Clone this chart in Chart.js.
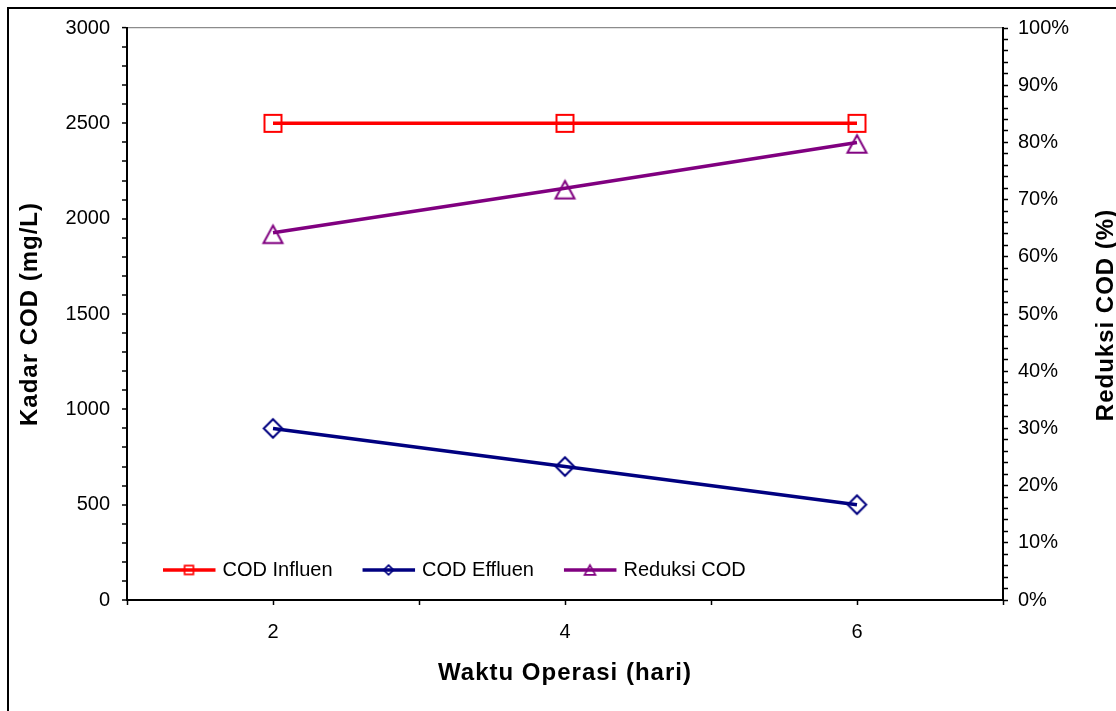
<!DOCTYPE html>
<html>
<head>
<meta charset="utf-8">
<script src="https://cdn.jsdelivr.net/npm/chart.js@4.4.0/dist/chart.umd.min.js"></script>
<style>
  html, body { margin: 0; padding: 0; background: #fff; overflow: hidden; width: 1116px; height: 711px; }
  #frame { position: absolute; left: 7px; top: 7px; width: 2000px; height: 2000px;
           border-left: 2px solid #000; border-top: 2px solid #000; }
  #wrap { position: absolute; left: 0; top: 0; width: 1116px; height: 711px; }
</style>
</head>
<body>
<div id="frame"></div>
<div id="wrap"><canvas id="c" width="1116" height="711"></canvas></div>
<script>
// Waktu operasi (hari)
const hari = [2, 4, 6];
// Kadar COD (mg/L)
const codInfluen = [2500, 2500, 2500];
const codEffluen = [900, 700, 500];
// Reduksi COD (%)
const reduksiCOD = [64.2, 72.0, 80.0];
const seriesNames = ['COD Influen', 'COD Effluen', 'Reduksi COD'];
const xLabelValues = [2, 4, 6];
const yLabelStep = 500;
const y1LabelStep = 10;

const FONT = '"Liberation Sans", Arial, sans-serif';
const RED = '#FF0000', NAVY = '#000080', PURPLE = '#800080';

// Hollow marker drawn onto a small canvas, used as the point style
function markerCanvas(shape, color, w, h, lw, dy) {
  const pad = 3;
  const c = document.createElement('canvas');
  c.width = Math.ceil(w + 2 * pad);
  c.height = Math.ceil(h + 2 * pad + 2 * Math.abs(dy));
  const g = c.getContext('2d');
  g.strokeStyle = color;
  g.lineWidth = lw;
  g.lineJoin = 'miter';
  const cx = c.width / 2, cy = c.height / 2 + dy;
  const hw = (w - lw) / 2, hh = (h - lw) / 2;
  g.beginPath();
  if (shape === 'square') {
    g.rect(cx - hw, cy - hh, 2 * hw, 2 * hh);
  } else if (shape === 'diamond') {
    g.moveTo(cx, cy - hh); g.lineTo(cx + hw, cy); g.lineTo(cx, cy + hh); g.lineTo(cx - hw, cy); g.closePath();
  } else {
    g.moveTo(cx, cy - hh); g.lineTo(cx + hw, cy + hh); g.lineTo(cx - hw, cy + hh); g.closePath();
  }
  g.stroke();
  return c;
}

const pointMarkers = [
  markerCanvas('square', RED, 19, 19, 2, 0),
  markerCanvas('diamond', NAVY, 20.5, 20.5, 2, 0),
  markerCanvas('triangle', PURPLE, 21, 19.5, 2, 1.5)
];
const legendMarkers = [
  markerCanvas('square', RED, 10.5, 10.5, 1.7, 0),
  markerCanvas('diamond', NAVY, 11.5, 11.5, 1.7, 0),
  markerCanvas('triangle', PURPLE, 12.5, 11.5, 1.7, 0)
];
const colors = [RED, NAVY, PURPLE];

function toPoints(values) {
  return hari.map((x, i) => ({ x: x, y: values[i] }));
}

// Series legend laid out in a single row inside the plot, near the bottom
const inPlotLegend = {
  id: 'inPlotLegend',
  afterDatasetsDraw(chart) {
    const { ctx, chartArea } = chart;
    let x = chartArea.left + 36;
    const y = chartArea.bottom - 30;
    ctx.save();
    ctx.font = '20px ' + FONT;
    ctx.textBaseline = 'middle';
    ctx.textAlign = 'left';
    chart.data.datasets.forEach((ds, i) => {
      ctx.strokeStyle = ds.borderColor;
      ctx.lineWidth = 3.5;
      ctx.beginPath();
      ctx.moveTo(x, y);
      ctx.lineTo(x + 52.5, y);
      ctx.stroke();
      const m = legendMarkers[i];
      ctx.drawImage(m, x + 26 - m.width / 2, y - m.height / 2);
      ctx.fillStyle = '#000';
      ctx.fillText(ds.label, x + 59.5, y);
      x += 59.5 + ctx.measureText(ds.label).width + 30;
    });
    ctx.restore();
  }
};

// Axis titles get a little extra letter spacing; the right-hand title reads bottom to top
const axisTitles = {
  id: 'axisTitles',
  beforeDraw(chart) {
    Object.values(chart.scales).forEach((s) => {
      if (s._spacedTitle) return;
      const orig = s.drawTitle;
      s.drawTitle = function () {
        const c = this.ctx;
        const prev = c.letterSpacing;
        c.letterSpacing = '1px';
        orig.call(this);
        c.letterSpacing = prev;
      };
      s._spacedTitle = true;
    });
  },
  afterDraw(chart) {
    const { ctx, chartArea } = chart;
    ctx.save();
    ctx.translate(chartArea.right + 103, (chartArea.top + chartArea.bottom) / 2 + 1);
    ctx.rotate(-Math.PI / 2);
    ctx.font = 'bold 24px ' + FONT;
    ctx.letterSpacing = '1px';
    ctx.fillStyle = '#000';
    ctx.textAlign = 'center';
    ctx.textBaseline = 'middle';
    ctx.fillText('Reduksi COD (%)', 0, 0);
    ctx.restore();
  }
};

const tickFont = { family: FONT, size: 20 };
const titleFont = { family: FONT, size: 24, weight: 'bold' };

new Chart(document.getElementById('c'), {
  type: 'line',
  data: {
    datasets: [
      { label: seriesNames[0], data: toPoints(codInfluen), yAxisID: 'y' },
      { label: seriesNames[1], data: toPoints(codEffluen), yAxisID: 'y' },
      { label: seriesNames[2], data: toPoints(reduksiCOD), yAxisID: 'y1' }
    ].map((ds, i) => Object.assign(ds, {
      borderColor: colors[i],
      backgroundColor: 'transparent',
      borderWidth: 3.5,
      pointStyle: pointMarkers[i],
      pointRadius: 10,
      pointHoverRadius: 10,
      tension: 0,
      fill: false
    }))
  },
  options: {
    responsive: false,
    devicePixelRatio: 1,
    animation: false,
    events: [],
    layout: { padding: { top: 28, left: 0, right: 0, bottom: 0 } },
    plugins: { legend: { display: false }, tooltip: { enabled: false } },
    scales: {
      x: {
        type: 'linear',
        position: 'bottom',
        min: 1,
        max: 7,
        afterFit(s) { s.height = 111; },
        ticks: {
          stepSize: 1,
          autoSkip: false,
          maxRotation: 0,
          padding: 15,
          color: '#000',
          font: tickFont,
          callback: (v) => (xLabelValues.includes(v) ? String(v) : '')
        },
        grid: { drawOnChartArea: false, drawTicks: true, tickLength: 5, tickColor: '#000', tickWidth: 1.5 },
        border: { color: '#000', width: 2 },
        title: { display: true, text: 'Waktu Operasi (hari)', color: '#000', font: titleFont, padding: { top: 0, bottom: 23 } }
      },
      y: {
        type: 'linear',
        position: 'left',
        min: 0,
        max: 3000,
        afterFit(s) { s.width = 127; },
        ticks: {
          stepSize: 100,
          autoSkip: false,
          padding: 12,
          color: '#000',
          font: tickFont,
          callback: (v) => (v % yLabelStep === 0 ? String(v) : '')
        },
        grid: {
          drawOnChartArea: true,
          color: (c) => (c.tick && c.tick.value === 3000 ? '#8c8c8c' : 'rgba(0,0,0,0)'),
          lineWidth: (c) => (c.tick && c.tick.value === 3000 ? 1.2 : 0),
          drawTicks: true,
          tickLength: 5,
          tickColor: '#000',
          tickWidth: 1.5
        },
        border: { color: '#000', width: 2 },
        title: { display: true, text: 'Kadar COD (mg/L)', color: '#000', font: titleFont, padding: { top: 16.2, bottom: 0 } }
      },
      y1: {
        type: 'linear',
        position: 'right',
        min: 0,
        max: 100,
        afterFit(s) { s.width = 113; },
        ticks: {
          stepSize: 2,
          autoSkip: false,
          padding: 10,
          color: '#000',
          font: tickFont,
          callback: (v) => (v % y1LabelStep === 0 ? v + '%' : '')
        },
        grid: { drawOnChartArea: false, drawTicks: true, tickLength: 5, tickColor: '#000', tickWidth: 1.5 },
        border: { color: '#000', width: 2 }
      }
    }
  },
  plugins: [inPlotLegend, axisTitles]
});
</script>
</body>
</html>
